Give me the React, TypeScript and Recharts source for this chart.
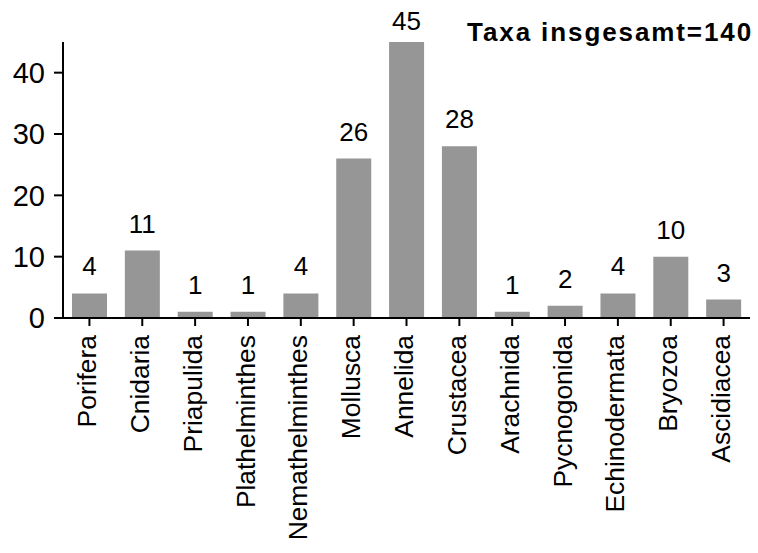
import { BarChart, Bar, XAxis, YAxis, LabelList } from "recharts";

const taxa = [
  "Porifera",
  "Cnidaria",
  "Priapulida",
  "Plathelminthes",
  "Nemathelminthes",
  "Mollusca",
  "Annelida",
  "Crustacea",
  "Arachnida",
  "Pycnogonida",
  "Echinodermata",
  "Bryozoa",
  "Ascidiacea",
];
const counts = [4, 11, 1, 1, 4, 26, 45, 28, 1, 2, 4, 10, 3];
const yTicks = [0, 10, 20, 30, 40];
const title = "Taxa insgesamt=140";

const data = taxa.map((name, i) => ({ name, count: counts[i] }));

const FONT = "'Liberation Sans', Arial, sans-serif";

const RotatedTick = (props: any) => {
  const { x, y, payload } = props;
  return (
    <text
      x={x}
      y={y}
      dy="0.25em"
      transform={`rotate(-90, ${x}, ${y})`}
      textAnchor="end"
      fontSize={26.4}
      fontFamily={FONT}
      fill="#000"
    >
      {payload.value}
    </text>
  );
};

// value above each bar; the tallest one gets squeezed under the top edge
const ValueLabel = (props: any) => {
  const { x, y, width, value } = props;
  return (
    <text
      x={x + width / 2}
      y={Math.max(y - 18, 30)}
      textAnchor="middle"
      fontSize={26}
      fontFamily={FONT}
      fill="#000"
    >
      {value}
    </text>
  );
};

export default function App() {
  return (
    <div style={{ position: "absolute", left: 0, top: 0, width: 758, height: 553, background: "#fff" }}>
      <BarChart
        width={758}
        height={553}
        data={data}
        margin={{ top: 42, right: 8, left: 0, bottom: 0 }}
      >
        <XAxis
          dataKey="name"
          interval={0}
          height={235}
          tickSize={8}
          tickMargin={9}
          tick={<RotatedTick />}
          stroke="#000"
          strokeWidth={2}
        />
        <YAxis
          domain={[0, 45]}
          ticks={yTicks}
          width={63}
          tickSize={9}
          tickMargin={9}
          tick={{ fontSize: 29, fontFamily: FONT, fill: "#000" }}
          stroke="#000"
          strokeWidth={2}
        />
        <Bar dataKey="count" fill="#969696" barSize={35} isAnimationActive={false}>
          <LabelList dataKey="count" content={<ValueLabel />} />
        </Bar>
      </BarChart>
      <div
        style={{
          position: "absolute",
          right: 5,
          top: 19,
          fontFamily: FONT,
          fontWeight: "bold",
          fontSize: 26,
          lineHeight: "26px",
          letterSpacing: 1.9,
          color: "#000",
          whiteSpace: "nowrap",
        }}
      >
        {title}
      </div>
    </div>
  );
}
